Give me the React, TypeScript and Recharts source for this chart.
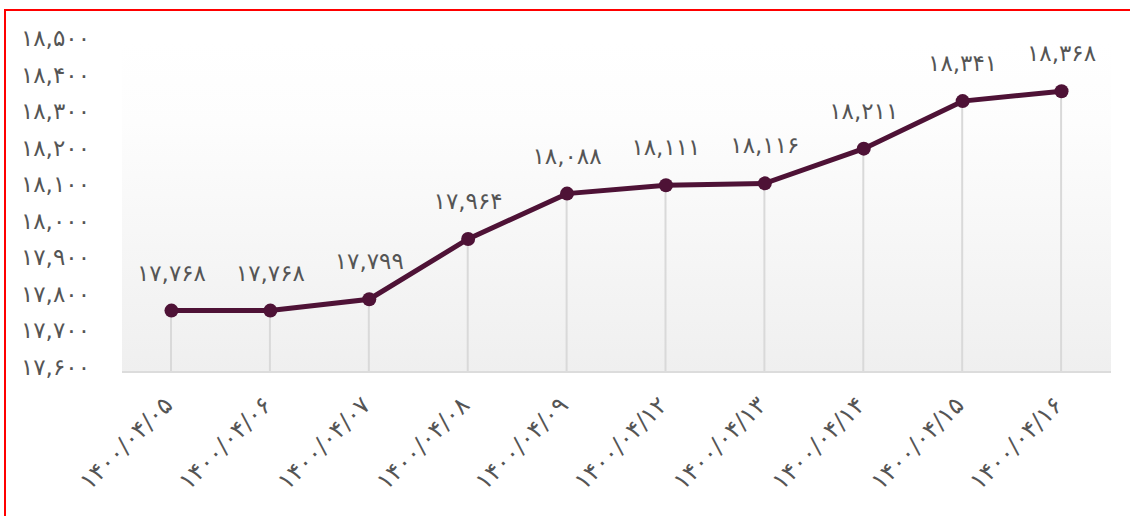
import { ComposedChart, Line, Bar, XAxis, YAxis, CartesianGrid, LabelList } from "recharts";

const dates = [
  "۱۴۰۰/۰۴/۰۵",
  "۱۴۰۰/۰۴/۰۶",
  "۱۴۰۰/۰۴/۰۷",
  "۱۴۰۰/۰۴/۰۸",
  "۱۴۰۰/۰۴/۰۹",
  "۱۴۰۰/۰۴/۱۲",
  "۱۴۰۰/۰۴/۱۳",
  "۱۴۰۰/۰۴/۱۴",
  "۱۴۰۰/۰۴/۱۵",
  "۱۴۰۰/۰۴/۱۶",
];
const prices = [17768, 17768, 17799, 17964, 18088, 18111, 18116, 18211, 18341, 18368];
const yTicks = [17600, 17700, 17800, 17900, 18000, 18100, 18200, 18300, 18400, 18500];

const data = dates.map((d, i) => ({ date: d, price: prices[i] }));

const FONT = "'DejaVu Sans', sans-serif";
const persianDigits = "۰۱۲۳۴۵۶۷۸۹";

function toPersian(n: number) {
  return n
    .toLocaleString("en-US")
    .replace(/[0-9]/g, (c) => persianDigits[Number(c)]);
}

function YTick(props: any) {
  const { x, y, payload } = props;
  return (
    <text x={x} y={y - 5} textAnchor="end" dominantBaseline="central" fill="#555" fontSize={23} fontFamily={FONT}>
      {toPersian(payload.value)}
    </text>
  );
}

function XTick(props: any) {
  const { x, y, payload } = props;
  const ax = x - 3;
  const ay = y;
  return (
    <text
      x={ax}
      y={ay}
      textAnchor="end"
      dominantBaseline="central"
      fill="#555"
      fontSize={24}
      fontFamily={FONT}
      transform={`rotate(-45, ${ax}, ${ay})`}
    >
      {payload.value}
    </text>
  );
}

export default function App() {
  return (
    <div style={{ position: "fixed", left: 0, top: 0, width: 1130, height: 516, overflow: "hidden", background: "#fff" }}>
      <div style={{ position: "absolute", left: 0, top: 0 }}>
        <ComposedChart width={1130} height={516} data={data} margin={{ top: 43, right: 19, bottom: 114, left: 0 }}>
          <defs>
            <linearGradient id="plotBg" x1="0" y1="0" x2="0" y2="1">
              <stop offset="0" stopColor="#ffffff" />
              <stop offset="0.24" stopColor="#fdfdfd" />
              <stop offset="1" stopColor="#efefef" />
            </linearGradient>
          </defs>
          <CartesianGrid horizontal={false} vertical={false} fill="url(#plotBg)" />
          <XAxis
            dataKey="date"
            height={30}
            tickLine={false}
            axisLine={{ stroke: "#dcdcdc", strokeWidth: 2 }}
            tickSize={0}
            tickMargin={29}
            interval={0}
            tick={<XTick />}
          />
          <YAxis
            width={122}
            domain={[17600, 18500]}
            ticks={yTicks}
            axisLine={false}
            tickLine={false}
            tickSize={0}
            tickMargin={32}
            tick={<YTick />}
          />
          <Bar dataKey="price" barSize={2} fill="#d9d9d9" isAnimationActive={false} />
          <Line
            dataKey="price"
            stroke="#4e1236"
            strokeWidth={5}
            dot={{ r: 7, fill: "#4e1236", stroke: "none" }}
            activeDot={false}
            isAnimationActive={false}
          >
            <LabelList
              dataKey="price"
              position="top"
              offset={30}
              formatter={(v: any) => toPersian(Number(v))}
              fill="#555"
              fontSize={23}
              fontFamily={FONT}
            />
          </Line>
        </ComposedChart>
      </div>
      <div
        style={{
          position: "absolute",
          left: 4,
          top: 9,
          width: 1200,
          height: 600,
          borderTop: "2px solid #ff0000",
          borderLeft: "2px solid #ff0000",
          pointerEvents: "none",
        }}
      />
    </div>
  );
}
